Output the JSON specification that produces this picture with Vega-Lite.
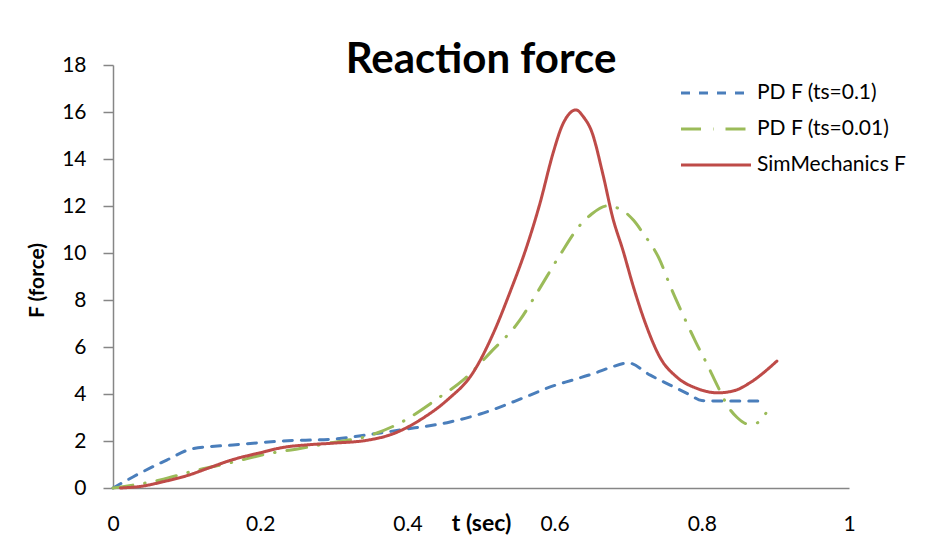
{
  "$schema": "https://vega.github.io/schema/vega-lite/v6.json",
  "autosize": {"type": "none"},
  "width": 736,
  "height": 423,
  "padding": {"left": 113, "top": 65, "right": 92, "bottom": 48},
  "background": "white",
  "title": {
    "text": "Reaction force",
    "font": "Lato",
    "fontSize": 42,
    "fontWeight": "bold",
    "color": "black",
    "anchor": "middle",
    "frame": "group",
    "baseline": "alphabetic",
    "offset": -61
  },
  "data": {
    "values": [
      {"series": "PD F (ts=0.1)", "t": 0, "F": 0},
      {"series": "PD F (ts=0.1)", "t": 0.027, "F": 0.47},
      {"series": "PD F (ts=0.1)", "t": 0.073, "F": 1.19},
      {"series": "PD F (ts=0.1)", "t": 0.109, "F": 1.68},
      {"series": "PD F (ts=0.1)", "t": 0.163, "F": 1.83},
      {"series": "PD F (ts=0.1)", "t": 0.231, "F": 2.0},
      {"series": "PD F (ts=0.1)", "t": 0.299, "F": 2.08},
      {"series": "PD F (ts=0.1)", "t": 0.345, "F": 2.26},
      {"series": "PD F (ts=0.1)", "t": 0.39, "F": 2.47},
      {"series": "PD F (ts=0.1)", "t": 0.458, "F": 2.81},
      {"series": "PD F (ts=0.1)", "t": 0.499, "F": 3.15},
      {"series": "PD F (ts=0.1)", "t": 0.557, "F": 3.83},
      {"series": "PD F (ts=0.1)", "t": 0.594, "F": 4.3},
      {"series": "PD F (ts=0.1)", "t": 0.625, "F": 4.6},
      {"series": "PD F (ts=0.1)", "t": 0.655, "F": 4.89},
      {"series": "PD F (ts=0.1)", "t": 0.675, "F": 5.12},
      {"series": "PD F (ts=0.1)", "t": 0.7, "F": 5.32},
      {"series": "PD F (ts=0.1)", "t": 0.73, "F": 4.8},
      {"series": "PD F (ts=0.1)", "t": 0.757, "F": 4.38},
      {"series": "PD F (ts=0.1)", "t": 0.784, "F": 3.96},
      {"series": "PD F (ts=0.1)", "t": 0.8, "F": 3.72},
      {"series": "PD F (ts=0.1)", "t": 0.82, "F": 3.7},
      {"series": "PD F (ts=0.1)", "t": 0.886, "F": 3.7},
      {"series": "PD F (ts=0.01)", "t": 0, "F": 0},
      {"series": "PD F (ts=0.01)", "t": 0.064, "F": 0.34},
      {"series": "PD F (ts=0.01)", "t": 0.109, "F": 0.72},
      {"series": "PD F (ts=0.01)", "t": 0.163, "F": 1.1},
      {"series": "PD F (ts=0.01)", "t": 0.209, "F": 1.45},
      {"series": "PD F (ts=0.01)", "t": 0.254, "F": 1.68},
      {"series": "PD F (ts=0.01)", "t": 0.299, "F": 1.94},
      {"series": "PD F (ts=0.01)", "t": 0.345, "F": 2.2},
      {"series": "PD F (ts=0.01)", "t": 0.39, "F": 2.77},
      {"series": "PD F (ts=0.01)", "t": 0.444, "F": 3.87},
      {"series": "PD F (ts=0.01)", "t": 0.476, "F": 4.6},
      {"series": "PD F (ts=0.01)", "t": 0.512, "F": 5.74},
      {"series": "PD F (ts=0.01)", "t": 0.553, "F": 7.15},
      {"series": "PD F (ts=0.01)", "t": 0.576, "F": 8.3},
      {"series": "PD F (ts=0.01)", "t": 0.607, "F": 9.9},
      {"series": "PD F (ts=0.01)", "t": 0.635, "F": 11.2},
      {"series": "PD F (ts=0.01)", "t": 0.65, "F": 11.65},
      {"series": "PD F (ts=0.01)", "t": 0.671, "F": 12.0},
      {"series": "PD F (ts=0.01)", "t": 0.689, "F": 11.87},
      {"series": "PD F (ts=0.01)", "t": 0.707, "F": 11.4},
      {"series": "PD F (ts=0.01)", "t": 0.72, "F": 10.85},
      {"series": "PD F (ts=0.01)", "t": 0.743, "F": 9.7},
      {"series": "PD F (ts=0.01)", "t": 0.757, "F": 8.6},
      {"series": "PD F (ts=0.01)", "t": 0.774, "F": 7.4},
      {"series": "PD F (ts=0.01)", "t": 0.792, "F": 6.2},
      {"series": "PD F (ts=0.01)", "t": 0.807, "F": 5.28},
      {"series": "PD F (ts=0.01)", "t": 0.822, "F": 4.3},
      {"series": "PD F (ts=0.01)", "t": 0.837, "F": 3.4},
      {"series": "PD F (ts=0.01)", "t": 0.848, "F": 3.0},
      {"series": "PD F (ts=0.01)", "t": 0.863, "F": 2.72},
      {"series": "PD F (ts=0.01)", "t": 0.875, "F": 2.77},
      {"series": "PD F (ts=0.01)", "t": 0.887, "F": 3.18},
      {"series": "SimMechanics F", "t": 0.01, "F": 0},
      {"series": "SimMechanics F", "t": 0.04, "F": 0.08},
      {"series": "SimMechanics F", "t": 0.07, "F": 0.28},
      {"series": "SimMechanics F", "t": 0.1, "F": 0.52},
      {"series": "SimMechanics F", "t": 0.13, "F": 0.85},
      {"series": "SimMechanics F", "t": 0.16, "F": 1.18},
      {"series": "SimMechanics F", "t": 0.2, "F": 1.5},
      {"series": "SimMechanics F", "t": 0.23, "F": 1.72},
      {"series": "SimMechanics F", "t": 0.27, "F": 1.85},
      {"series": "SimMechanics F", "t": 0.3, "F": 1.91},
      {"series": "SimMechanics F", "t": 0.345, "F": 2.03},
      {"series": "SimMechanics F", "t": 0.38, "F": 2.3},
      {"series": "SimMechanics F", "t": 0.42, "F": 2.95},
      {"series": "SimMechanics F", "t": 0.454, "F": 3.74},
      {"series": "SimMechanics F", "t": 0.489, "F": 4.9},
      {"series": "SimMechanics F", "t": 0.517, "F": 6.6},
      {"series": "SimMechanics F", "t": 0.539, "F": 8.3},
      {"series": "SimMechanics F", "t": 0.562, "F": 10.26},
      {"series": "SimMechanics F", "t": 0.58, "F": 12.1},
      {"series": "SimMechanics F", "t": 0.598, "F": 14.26},
      {"series": "SimMechanics F", "t": 0.61, "F": 15.4},
      {"series": "SimMechanics F", "t": 0.621, "F": 15.96},
      {"series": "SimMechanics F", "t": 0.629, "F": 16.09},
      {"series": "SimMechanics F", "t": 0.639, "F": 15.8},
      {"series": "SimMechanics F", "t": 0.65, "F": 15.2},
      {"series": "SimMechanics F", "t": 0.666, "F": 13.3},
      {"series": "SimMechanics F", "t": 0.679, "F": 11.5},
      {"series": "SimMechanics F", "t": 0.693, "F": 10.1},
      {"series": "SimMechanics F", "t": 0.707, "F": 8.57},
      {"series": "SimMechanics F", "t": 0.725, "F": 6.87},
      {"series": "SimMechanics F", "t": 0.743, "F": 5.57},
      {"series": "SimMechanics F", "t": 0.766, "F": 4.72},
      {"series": "SimMechanics F", "t": 0.793, "F": 4.24},
      {"series": "SimMechanics F", "t": 0.822, "F": 4.05},
      {"series": "SimMechanics F", "t": 0.845, "F": 4.15},
      {"series": "SimMechanics F", "t": 0.865, "F": 4.47},
      {"series": "SimMechanics F", "t": 0.902, "F": 5.4}
    ]
  },
  "mark": {"type": "line", "interpolate": "monotone", "strokeWidth": 3, "strokeCap": "round"},
  "encoding": {
    "x": {
      "field": "t",
      "type": "quantitative",
      "scale": {"domain": [0, 1], "nice": false, "zero": false},
      "axis": {
        "values": [0, 0.2, 0.4, 0.6, 0.8, 1],
        "format": "~g",
        "ticks": false,
        "grid": false,
        "labelPadding": 25,
        "labelFlush": false,
        "title": "t (sec)",
        "titleX": 368,
        "titleY": 42,
        "titleAlign": "center",
        "titleBaseline": "alphabetic",
        "titleFontSize": 23,
        "titleFontWeight": "bold"
      }
    },
    "y": {
      "field": "F",
      "type": "quantitative",
      "scale": {"domain": [0, 18], "nice": false},
      "axis": {
        "values": [0, 2, 4, 6, 8, 10, 12, 14, 16, 18],
        "grid": false,
        "tickSize": 10,
        "labelPadding": 17,
        "title": "F (force)",
        "titleX": -76,
        "titleY": 215,
        "titleAngle": -90,
        "titleAlign": "center",
        "titleBaseline": "middle",
        "titleFontSize": 21,
        "titleFontWeight": "bold"
      }
    },
    "color": {
      "field": "series",
      "type": "nominal",
      "scale": {
        "domain": ["PD F (ts=0.1)", "PD F (ts=0.01)", "SimMechanics F"],
        "range": ["#4A7EBB", "#9BBB59", "#BE4B48"]
      },
      "legend": {
        "title": null,
        "orient": "none",
        "legendX": 584,
        "legendY": 9,
        "rowPadding": 7,
        "symbolType": "M-2,0H2",
        "symbolSize": 1225,
        "symbolStrokeWidth": 3,
        "symbolFillColor": "transparent",
        "labelFontSize": 21,
        "labelFont": "Lato",
        "labelColor": "black",
        "labelOffset": 22
      }
    },
    "strokeDash": {
      "field": "series",
      "type": "nominal",
      "scale": {
        "domain": ["PD F (ts=0.1)", "PD F (ts=0.01)", "SimMechanics F"],
        "range": [[9, 9], [20, 12, 0.5, 12], [1, 0]]
      },
      "legend": null
    }
  },
  "config": {
    "view": {"stroke": null},
    "axis": {
      "domainColor": "#868686",
      "domainWidth": 1.5,
      "tickColor": "#868686",
      "tickWidth": 1.5,
      "labelFont": "Lato",
      "labelFontSize": 21,
      "labelColor": "black",
      "titleFont": "Lato",
      "titleColor": "black"
    }
  }
}
